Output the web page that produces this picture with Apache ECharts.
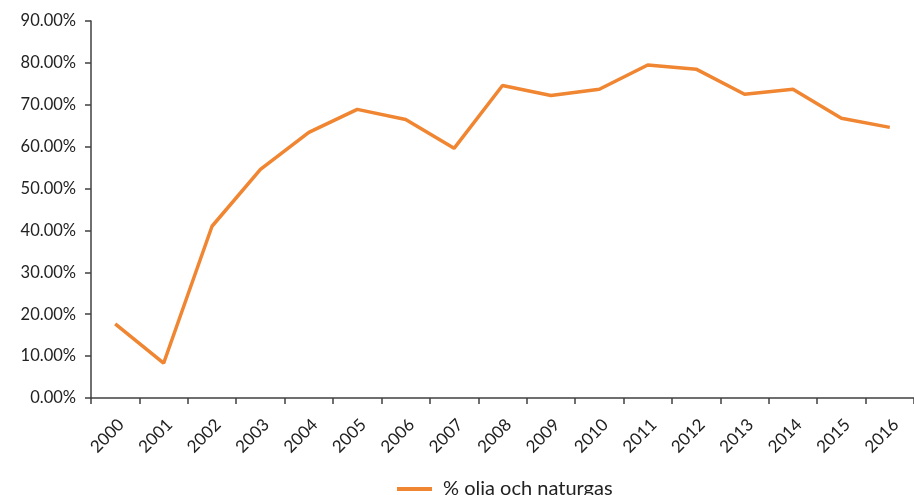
<!DOCTYPE html>
<html>
<head>
<meta charset="utf-8">
<script src="https://cdn.jsdelivr.net/npm/echarts@6/dist/echarts.min.js"></script>
<style>
  html, body { margin: 0; padding: 0; background: #fff; }
  #chart { width: 914px; height: 495px; }
</style>
</head>
<body>
<div id="chart"></div>
<script>
  // år och andel olja och naturgas (%)
  var years = ['2000', '2001', '2002', '2003', '2004', '2005', '2006', '2007', '2008',
    '2009', '2010', '2011', '2012', '2013', '2014', '2015', '2016'];
  var oljaGas = [17.7, 8.3, 41.0, 54.6, 63.4, 68.9, 66.5, 59.6, 74.6,
    72.2, 73.7, 79.5, 78.5, 72.5, 73.7, 66.8, 64.6];
  var seriesName = '% olja och naturgas';

  var axisColor = '#404040';
  var font = 'Lato, "Open Sans", sans-serif';

  var myChart = echarts.init(document.getElementById('chart'));
  myChart.setOption({
    animation: false,
    textStyle: { fontFamily: font },
    grid: { left: 91, right: -5, top: 21, bottom: 97, containLabel: false },
    legend: {
      bottom: -9,
      left: 392,
      icon: 'rect',
      itemWidth: 35,
      itemHeight: 4,
      itemGap: 10,
      textStyle: { color: '#222', fontSize: 20, fontFamily: font, padding: [0, 0, 0, 6] },
      data: [seriesName]
    },
    xAxis: {
      type: 'category',
      data: years,
      boundaryGap: true,
      axisLine: { lineStyle: { color: axisColor, width: 1.5 } },
      axisTick: { show: true, length: 6, lineStyle: { color: axisColor, width: 1.5 } },
      axisLabel: {
        rotate: 45,
        interval: 0,
        margin: 18,
        verticalAlign: 'top',
        color: '#222',
        fontSize: 17,
        fontFamily: font
      },
      splitLine: { show: false }
    },
    yAxis: {
      type: 'value',
      min: 0,
      max: 90,
      interval: 10,
      axisLine: { show: true, lineStyle: { color: axisColor, width: 1.5 } },
      axisTick: { show: true, length: 6, lineStyle: { color: axisColor, width: 1.5 } },
      axisLabel: {
        margin: 15,
        color: '#222',
        fontSize: 16.5,
        fontFamily: font,
        formatter: function (v) { return v.toFixed(2) + '%'; }
      },
      splitLine: { show: false }
    },
    series: [{
      name: seriesName,
      type: 'line',
      data: oljaGas,
      color: '#F08532',
      symbol: 'none',
      lineStyle: { width: 3.5, color: '#F08532' }
    }]
  });
</script>
</body>
</html>
